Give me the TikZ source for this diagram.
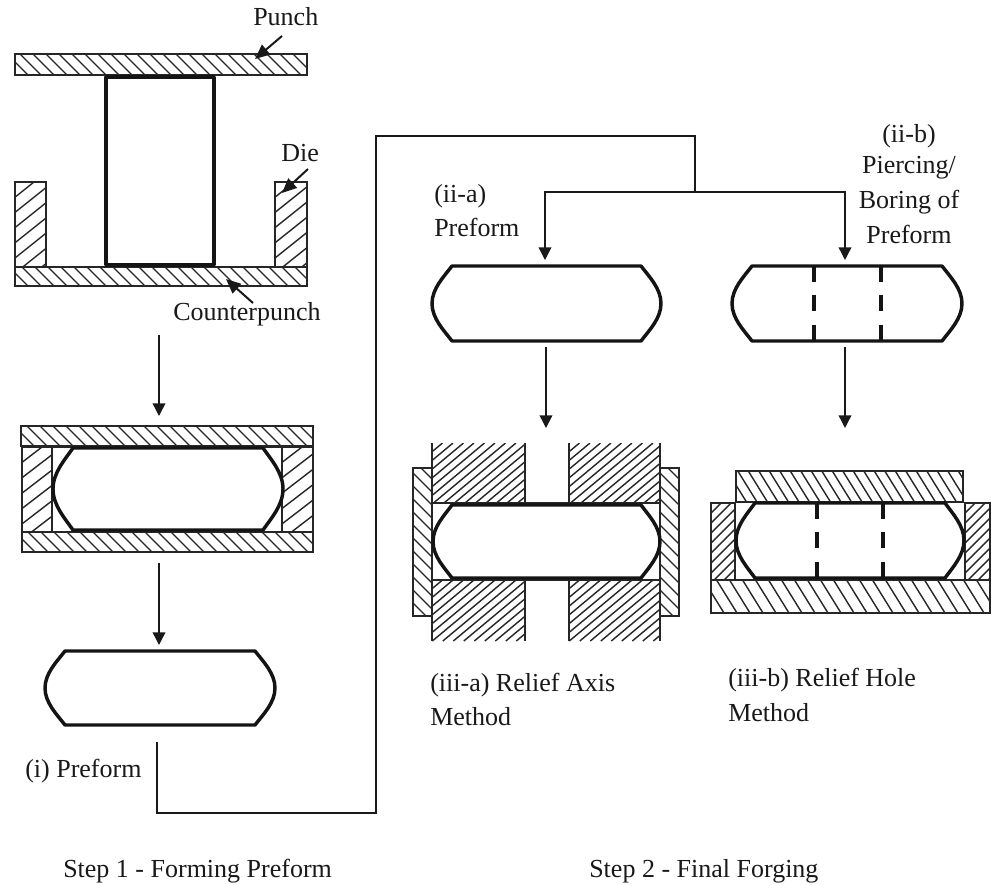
\documentclass[tikz,border=0pt]{standalone}
\usepackage{fontspec}
\setmainfont{Liberation Serif}
\usetikzlibrary{arrows.meta}
\tikzset{
  thinl/.style={line width=1.1pt,black!85},
  body/.style={line width=2.6pt,black!92,line join=round},
  hatchl/.style={line width=1.05pt,black!85},
  conn/.style={line width=1.05pt,black!90},
  arrowl/.style={conn,-{Triangle[length=9.5pt,width=9.5pt]}},
  leader/.style={line width=1.5pt,black!90,-{Triangle[length=11pt,width=9.5pt]}},
  lbl/.style={font=\fontsize{19.5pt}{25pt}\selectfont,inner sep=0pt,anchor=base west,black!90},
  dashl/.style={body,dash pattern=on 12pt off 10pt},
}
% x1 y1 x2 y2 spacing slope-run
\newcommand{\hatchfill}[6]{%
  \begin{scope}
    \clip (#1,#2) rectangle (#3,#4);
    \pgfmathsetmacro{\hh}{(#4-#2)}
    \pgfmathsetmacro{\rr}{\hh*#6}
    \pgfmathsetmacro{\st}{#1-\rr}
    \pgfmathsetmacro{\sn}{\st+#5}
    \foreach \s in {\st,\sn,...,#3}{
      \draw[hatchl] (\s,#2) -- (\s+\rr,#4);
    }
  \end{scope}
}
\newcommand{\hatchfillr}[6]{%
  \begin{scope}
    \clip (#1,#2) rectangle (#3,#4);
    \pgfmathsetmacro{\hh}{(#4-#2)}
    \pgfmathsetmacro{\rr}{\hh*#6}
    \pgfmathsetmacro{\st}{#1-\rr}
    \pgfmathsetmacro{\sn}{\st+#5}
    \foreach \s in {\st,\sn,...,#3}{
      \draw[hatchl] (\s,#4) -- (\s+\rr,#2);
    }
  \end{scope}
}
% back-slash box
\newcommand{\bslbox}[6]{\hatchfill{#1}{#2}{#3}{#4}{#5}{#6}\draw[thinl] (#1,#2) rectangle (#3,#4);}
% slash box
\newcommand{\slbox}[6]{\hatchfillr{#1}{#2}{#3}{#4}{#5}{#6}\draw[thinl] (#1,#2) rectangle (#3,#4);}
% x1 y1 x2 y2 chamfer
\newcommand{\preformshape}[5]{%
  \pgfmathsetmacro{\mm}{(#2+#4)/2}
  \pgfmathsetmacro{\dyy}{(#4-#2)*0.2}
  \pgfmathsetmacro{\ya}{#2+(#4-#2)*0.14}
  \pgfmathsetmacro{\yb}{#4-(#4-#2)*0.14}
  \pgfmathsetmacro{\xa}{#1+#5*0.6}
  \pgfmathsetmacro{\xb}{#3-#5*0.6}
  \draw[body,fill=white] (#1+#5,#2) -- (#3-#5,#2)
    .. controls (\xb,\ya) and (#3,\mm-\dyy) .. (#3,\mm)
    .. controls (#3,\mm+\dyy) and (\xb,\yb) .. (#3-#5,#4)
    -- (#1+#5,#4)
    .. controls (\xa,\yb) and (#1,\mm+\dyy) .. (#1,\mm)
    .. controls (#1,\mm-\dyy) and (\xa,\ya) .. cycle;
}
\begin{document}
\begin{tikzpicture}[x=0.75pt,y=-0.75pt]
\useasboundingbox (0,0) rectangle (993,885);
\fill[white] (0,0) rectangle (993,885);

% --- Stage 1: tooling
\bslbox{15}{54}{307}{75}{13}{1}
\slbox{15}{182}{46}{267}{19}{1.25}
\slbox{275}{182}{307}{267}{19}{1.25}
\bslbox{15}{267}{307}{286}{13}{1}
\draw[body,line width=2.8pt] (106,77) rectangle (214,265);

% --- Stage 2: closed die
\bslbox{21}{426}{313}{446}{13}{1}
\slbox{22}{447}{52}{532}{20}{1.3}
\slbox{282}{447}{313}{532}{20}{1.3}
\bslbox{22}{532}{313}{552}{13}{1}
\draw[thinl] (52,447) -- (282,447);
\preformshape{53}{448}{283}{530}{20}

% --- (i) preform
\preformshape{45}{651}{275}{725}{20}

% --- (ii-a), (ii-b)
\preformshape{432}{266}{661}{341}{20}
\preformshape{732}{266}{962}{341}{20}
\draw[dashl] (814,266) -- (814,341);
\draw[dashl] (881,266) -- (881,341);

% --- (iii-a)
\bslbox{413}{468}{432}{616}{13}{1}
\bslbox{660}{468}{679}{616}{13}{1}
\hatchfillr{432}{443}{525}{503}{10.5}{1.2}
\hatchfillr{569}{443}{660}{503}{10.5}{1.2}
\hatchfillr{432}{580}{525}{641}{10.5}{1.2}
\hatchfillr{569}{580}{660}{641}{10.5}{1.2}
\draw[thinl] (432,443) -- (432,641) (525,443) -- (525,503) (569,443) -- (569,503)
  (660,443) -- (660,641) (525,580) -- (525,641) (569,580) -- (569,641)
  (432,503) -- (660,503) (432,580) -- (660,580);
\preformshape{433}{505}{660}{578}{19}

% --- (iii-b)
\bslbox{736}{471}{963}{502}{10.5}{0.62}
\slbox{711}{503}{735}{580}{10}{1}
\slbox{965}{503}{990}{580}{10}{1}
\bslbox{711}{580}{990}{613}{13}{0.62}
\preformshape{736}{503}{964}{578}{19}
\draw[dashl] (817,503) -- (817,578);
\draw[dashl] (883,503) -- (883,578);

% --- Labels
\node[lbl] (punch) at (253,26) {Punch};
\node[lbl] (die) at (281,161) {Die};
\node[lbl] (cpunch) at (173,320) {Counterpunch};
\node[lbl] (pf1) at (25,777) {(i) Preform};
\node[lbl] (pf2a) at (434,202) {(ii-a)};
\node[lbl] (pf2a2) at (434,236) {Preform};
\node[lbl,anchor=base] (pf2b) at (909,142) {(ii-b)};
\node[lbl,anchor=base] (pf2b2) at (909,173) {Piercing/};
\node[lbl,anchor=base] (pf2b3) at (909,208) {Boring of};
\node[lbl,anchor=base] (pf2b4) at (909,243) {Preform};
\node[lbl] (m3a) at (430,691) {(iii-a) Relief Axis};
\node[lbl] (m3a2) at (430,725) {Method};
\node[lbl] (m3b) at (728,686) {(iii-b) Relief Hole};
\node[lbl] (m3b2) at (728,721) {Method};
\node[lbl] (s1) at (63,877) {Step 1 - Forming Preform};
\node[lbl] (s2) at (589,877) {Step 2 - Final Forging};

% --- Connectors
\coordinate (pa) at (282,36); \coordinate (pb) at (255,59);
\coordinate (da) at (308,169); \coordinate (db) at (282,193);
\coordinate (ca) at (253,303); \coordinate (cb) at (226,279);
\draw[leader] (pa) -- (pb);
\draw[leader] (da) -- (db);
\draw[leader] (ca) -- (cb);

\coordinate (a1s) at (159,335); \coordinate (a1e) at (159,416);
\coordinate (a2s) at (159,563); \coordinate (a2e) at (159,645);
\draw[arrowl] (a1s) -- (a1e);
\draw[arrowl] (a2s) -- (a2e);

\coordinate (ls) at (157,742); \coordinate (l1) at (157,813);
\coordinate (l2) at (376,813); \coordinate (l3) at (376,136);
\coordinate (l4) at (695,136); \coordinate (l5) at (695,192);
\coordinate (bl) at (545,192); \coordinate (br) at (845,192);
\coordinate (ble) at (545,260); \coordinate (bre) at (845,260);
\draw[conn] (ls) -- (l1) -- (l2) -- (l3) -- (l4) -- (l5);
\draw[arrowl] (l5) -- (bl) -- (ble);
\draw[arrowl] (l5) -- (br) -- (bre);

\coordinate (a3s) at (546,347); \coordinate (a3e) at (546,428);
\coordinate (a4s) at (845,347); \coordinate (a4e) at (845,428);
\draw[arrowl] (a3s) -- (a3e);
\draw[arrowl] (a4s) -- (a4e);
\end{tikzpicture}
\end{document}
